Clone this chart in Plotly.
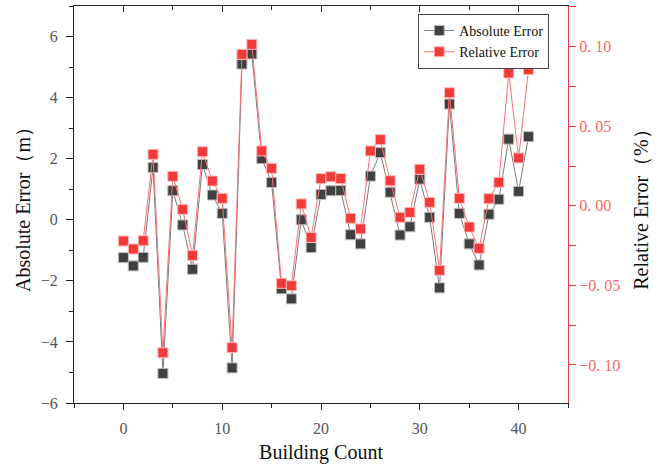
import plotly.graph_objects as go

building = list(range(42))
abs_err = [-1.24, -1.51, -1.23, 1.71, -5.03, 0.95, -0.17, -1.62, 1.81, 0.81,
           0.21, -4.85, 5.10, 5.43, 2.00, 1.22, -2.26, -2.59, 0.00, -0.91,
           0.83, 0.95, 0.96, -0.49, -0.79, 1.43, 2.20, 0.90, -0.50, -0.23,
           1.33, 0.08, -2.23, 3.79, 0.21, -0.79, -1.48, 0.18, 0.67, 2.64,
           0.93, 2.72]
rel_err = [-0.0221, -0.0271, -0.0219, 0.0324, -0.0923, 0.0186, -0.0022, -0.0311, 0.0340, 0.0156,
           0.0047, -0.0891, 0.0952, 0.1015, 0.0345, 0.0236, -0.0487, -0.0502, 0.0012, -0.0198,
           0.0171, 0.0183, 0.0171, -0.0078, -0.0145, 0.0345, 0.0416, 0.0158, -0.0072, -0.0041,
           0.0230, 0.0022, -0.0405, 0.0711, 0.0047, -0.0133, -0.0267, 0.0045, 0.0148, 0.0835,
           0.0301, 0.0856]

x_ticks = [0, 10, 20, 30, 40]
y_ticks = [-6, -4, -2, 0, 2, 4, 6]
y_ticktext = ["\u22126", "\u22124", "\u22122", "0", "2", "4", "6"]
y2_ticks = [-0.10, -0.05, 0.00, 0.05, 0.10]
y2_ticktext = ["\u22120. 10", "\u22120. 05", "0. 00", "0. 05", "0. 10"]

FONT = "Liberation Serif, Times New Roman, serif"
RED = "#F23A3A"
DARK = "#404040"

fig = go.Figure()
fig.add_trace(go.Scatter(
    x=building, y=abs_err, name="Absolute Error", mode="lines+markers",
    line=dict(color="#7a7a7a", width=1),
    marker=dict(symbol="square", size=10, color=DARK, line=dict(color="#bbbbbb", width=1)),
    yaxis="y"))
fig.add_trace(go.Scatter(
    x=building, y=rel_err, name="Relative Error", mode="lines+markers",
    line=dict(color="#FF7070", width=1),
    marker=dict(symbol="square", size=10, color=RED, line=dict(color="#ffbbbb", width=1)),
    yaxis="y2"))
# invisible helper trace so the top (mirror) axis is drawn
fig.add_trace(go.Scatter(x=[None], y=[None], xaxis="x2", yaxis="y",
                         showlegend=False, hoverinfo="skip", mode="markers"))

fig.update_layout(
    width=660, height=464,
    margin=dict(l=74, r=92, t=6, b=61),
    paper_bgcolor="white", plot_bgcolor="white",
    font=dict(family=FONT, color="#222222"),
    showlegend=True,
    legend=dict(x=0.962, y=0.98, xanchor="right", yanchor="top",
                bgcolor="white", bordercolor="#444444", borderwidth=1,
                font=dict(family=FONT, size=14, color="#111111"),
                tracegroupgap=0, itemwidth=30),
    xaxis=dict(range=[-5, 45], tickvals=x_ticks, showgrid=False, zeroline=False, automargin=False,
               showline=True, linecolor="#222222", linewidth=1.2,
               ticks="outside", ticklen=6, tickcolor="#222222", ticklabelstandoff=5,
               minor=dict(dtick=5, ticks="outside", ticklen=4, tickcolor="#222222"),
               tickfont=dict(family=FONT, size=16, color="#555555"),
               title=dict(text="Building Count", font=dict(family=FONT, size=20, color="#111111"), standoff=12)),
    xaxis2=dict(range=[-5, 45], overlaying="x", side="top", tickvals=x_ticks, automargin=False,
                showgrid=False, zeroline=False, showline=True, linecolor="#222222", linewidth=1.2,
                ticks="inside", ticklen=6, tickcolor="#222222", showticklabels=False,
                minor=dict(dtick=5, ticks="inside", ticklen=4, tickcolor="#222222")),
    yaxis=dict(range=[-6, 7], tickvals=y_ticks, ticktext=y_ticktext, showgrid=False, zeroline=False,
               automargin=False,
               showline=True, linecolor="#222222", linewidth=1.2,
               ticks="outside", ticklen=7, tickcolor="#222222", ticklabelstandoff=5,
               minor=dict(dtick=1, ticks="outside", ticklen=4, tickcolor="#222222"),
               tickfont=dict(family=FONT, size=16, color="#555555"),
               title=dict(text="Absolute Error\uff08m\uff09", font=dict(family=FONT, size=20, color="#111111"), standoff=4)),
    yaxis2=dict(range=[-0.1239, 0.1256], overlaying="y", side="right",
                tickvals=y2_ticks, ticktext=y2_ticktext, showgrid=False, zeroline=False,
                automargin=False,
                showline=True, linecolor=RED, linewidth=1.2,
                ticks="outside", ticklen=7, tickcolor=RED,
                minor=dict(dtick=0.025, tick0=0, ticks="outside", ticklen=7, tickcolor=RED),
                tickfont=dict(family=FONT, size=16, color="#FF6666"),
                title=dict(text="Relative Error\uff08%\uff09", font=dict(family=FONT, size=20, color="#111111"), standoff=14)),
)

fig.write_html("out.html", config={"displayModeBar": False},
               post_script="document.body.style.margin='0';")
